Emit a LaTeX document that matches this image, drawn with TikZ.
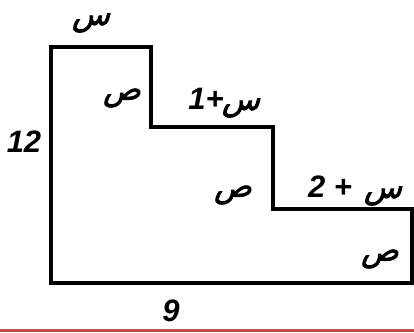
\documentclass[tikz,border=0pt]{standalone}
\usepackage{fontspec}
\setmainfont{Liberation Sans}
\newfontfamily\arabfont[Script=Arabic,FakeSlant=0.25,FakeBold=2.5]{DejaVu Sans}
\newfontfamily\numfont{Liberation Sans}
\definecolor{barred}{HTML}{C0504D}
\begin{document}
\begin{tikzpicture}[x=1pt,y=-1pt]

    % Define node styles
    \tikzstyle{num_label} = [inner sep=0pt, font=\numfont\bfseries\itshape\fontsize{31}{34}\selectfont]
    \tikzstyle{arab_label} = [inner sep=0pt, yshift=-6pt, font=\arabfont\fontsize{31}{34}\selectfont]
    \tikzstyle{stair_line} = [draw, line width=4pt, line join=miter]

    \useasboundingbox (0,0) rectangle (414,332);

    % Corners of the shape
    \coordinate (top_left) at (51,47);
    \coordinate (step_1) at (151,47);
    \coordinate (step_2) at (151,127);
    \coordinate (step_3) at (273,127);
    \coordinate (step_4) at (273,209);
    \coordinate (step_5) at (412,209);
    \coordinate (bottom_right) at (412,283);
    \coordinate (bottom_left) at (51,283);

    % Draw shape
    \draw [stair_line] (top_left) -- (step_1) -- (step_2) -- (step_3) -- (step_4) -- (step_5) -- (bottom_right) -- (bottom_left) -- cycle;

    % Draw labels
    \node [arab_label] (top_x) at (91,17) {س};
    \node [arab_label] (first_y) at (122,92) {ص};
    \node [num_label] (second_one) at (206,99) {1+};
    \node [arab_label] (second_x) at (241,102) {س};
    \node [arab_label] (second_y) at (233,189) {ص};
    \node [num_label] (third_two) at (330,187) {2 +};
    \node [arab_label] (third_x) at (383,190) {س};
    \node [arab_label] (third_y) at (380,253) {ص};
    \node [num_label] (height_12) at (24,142) {12};
    \node [num_label] (width_9) at (171,311) {9};

    % Bottom bar
    \coordinate (bar_left) at (0,330.5);
    \coordinate (bar_right) at (414,330.5);
    \draw [barred, line width=3pt] (bar_left) -- (bar_right);

\end{tikzpicture}
\end{document}
